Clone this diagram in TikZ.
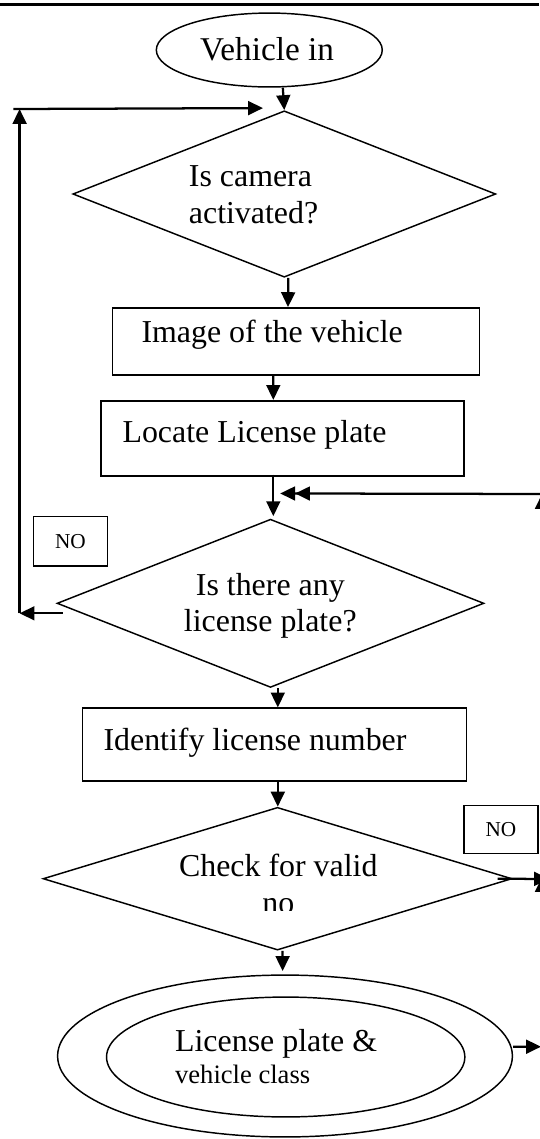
\documentclass[tikz,border=0pt]{standalone}
\usepackage{fontspec}
\setmainfont{Liberation Serif}
\usetikzlibrary{shapes.geometric,arrows.meta,calc}

\begin{document}
\begin{tikzpicture}[x=0.3762pt,y=-0.3762pt]
       \tikzstyle{txt} = [inner sep=0pt, font=\fontsize{12}{13.8}\selectfont];
       \tikzstyle{frame} = [rectangle, draw, line width=0.7pt, inner sep=0pt];
       \tikzstyle{nobox} = [rectangle, draw, line width=0.55pt, inner sep=0pt, font=\fontsize{8}{9.6}\selectfont];
       \tikzstyle{test} = [diamond, draw, line width=0.55pt, inner sep=0pt];
       \tikzstyle{oval} = [ellipse, draw, line width=0.55pt, inner sep=0pt];
       \tikzstyle{arr} = [-{Triangle[length=5.6pt,width=5.2pt]}, line width=0.85pt];
       \useasboundingbox (0,0) rectangle (539,1139);
       \draw[line width=1.15pt] (0,4.5) -- (539,4.5);

       \node[oval, minimum width=85pt, minimum height=27.8pt] (veh) at (269.3,50) {};
       \node[test, minimum width=159.1pt, minimum height=62.6pt] (cam) at (284.3,194) {};
       \node[frame, minimum width=138.1pt, minimum height=25.2pt] (img) at (296,341.5) {};
       \node[frame, minimum width=136.7pt, minimum height=28.2pt] (loc) at (282.4,438.3) {};
       \node[nobox, minimum width=28pt, minimum height=18.5pt] (no1) at (70.5,541.3) {NO};
       \node[test, minimum width=160.6pt, minimum height=63.3pt] (plate) at (270.5,603.3) {};
       \node[frame, minimum width=144.5pt, minimum height=27.2pt] (ident) at (274.5,744.5) {};
       \node[nobox, minimum width=27.8pt, minimum height=17.9pt] (no2) at (501,829.5) {NO};
       \node[test, minimum width=176.4pt, minimum height=53.7pt] (valid) at (277.5,878.7) {};
       \node[oval, minimum width=171.1pt, minimum height=60.9pt] (outer) at (285,1056) {};
       \node[oval, minimum width=134.8pt, minimum height=45.1pt] (inner) at (285.7,1057) {};

       % multi-line texts sit on the baseline of their last line
       \node[txt, font=\fontsize{12.5}{15}\selectfont, anchor=base] (t-veh) at (267,60) {Vehicle in};
       \node[txt, anchor=base west, align=left] (t-cam) at (188.4,223.3) {Is camera\\activated?};
       \node[txt, anchor=base west] (t-img) at (141,342) {Image of the vehicle};
       \node[txt, anchor=base west] (t-loc) at (122,442) {Locate License plate};
       \node[txt, anchor=base, align=center] (t-plate) at (270.3,631.7) {Is there any\\license plate?};
       \node[txt, anchor=base west] (t-ident) at (103,750) {Identify license number};
       \begin{scope}
         \clip (0,800) rectangle (539,910.5);
         \node[txt, anchor=base, align=center] (t-valid) at (278.3,913.3) {Check for valid\\no};
       \end{scope}
       \node[txt, anchor=base west, align=left] (t-out) at (174.6,1083.3) {License plate \&\\[-1.9pt]{\fontsize{10}{12}\selectfont vehicle class}};

       \coordinate (lb) at (19.6,613.3);
       \coordinate (lt) at (19.6,109);
       \coordinate (rj) at (545,494);
       \coordinate (ra) at (542,494);
       \coordinate (rb) at (542,877);
       \coordinate (rc) at (549,879);
       \coordinate (rd) at (541,1046.7);
       \coordinate (rv1) at (542,874);
       \coordinate (rv2) at (542,1040);

       \draw[arr] ($(veh.south)+(13.5,0)$) -- (cam.north);
       \draw[arr] ($(cam.south)+(4,0)$) -- ($(img.north)+(-8,0)$);
       \draw[arr] ($(img.south)+(-22.7,0)$) -- ($(loc.north)+(-9.1,0)$);
       \draw[arr] ($(loc.south)+(-9.1,-2)$) -- ($(plate.north)+(2.8,-2.3)$);
       \draw[arr] ($(plate.south)+(7.3,0)$) -- ($(ident.north)+(3.3,0)$);
       \draw[arr] ($(ident.south)+(3.3,0)$) -- ($(valid.north)+(0.3,0)$);
       \draw[arr] ($(valid.south)+(5.1,0)$) -- ($(outer.north)+(-2.4,-3.3)$);

       \draw[arr] ($(plate.west)+(6.3,10)$) -- (lb);
       \draw[arr] (lb) -- (lt);
       \draw[arr] ($(lt)+(-6.3,0)$) -- ($(cam.north)+(-21.3,-2)$);

       \draw[-{Triangle[length=5.6pt,width=5.2pt] Triangle[length=5.6pt,width=5.2pt]}, line width=0.85pt] (rj) -- ($(plate.north)+(9.7,-25)$);
       \draw[arr] (rv1) -- (ra);
       \draw[arr] (rv2) -- (rb);
       \draw[arr] ($(valid.east)+(-15,0)$) -- (rc);
       \draw[arr] ($(outer.east)+(0,-9.3)$) -- (rd);
\end{tikzpicture}
\end{document}
